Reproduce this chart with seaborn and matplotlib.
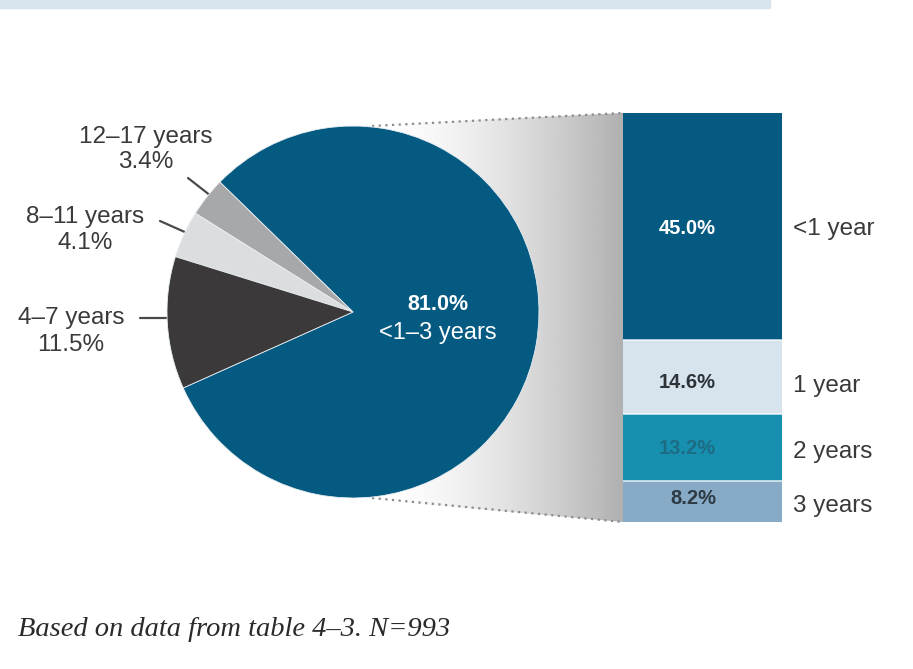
import numpy as np
import seaborn as sns
from matplotlib import pyplot as plt
from matplotlib.patches import Polygon, Rectangle

# pie: years in home state
pie_labels = ["<1–3 years", "12–17 years", "8–11 years", "4–7 years"]
pie_values = [81.0, 3.4, 4.1, 11.5]
pie_colors = ["#055a82", "#a7a8aa", "#dcdddf", "#3b393a"]

# breakdown of the <1-3 years slice, bottom to top
bar_labels = ["3 years", "2 years", "1 year", "<1 year"]
bar_values = [8.2, 13.2, 14.6, 45.0]
bar_colors = ["#87abc6", "#1790b0", "#d7e4ee", "#055a82"]
bar_text_colors = ["#2e3a44", "#1d6c84", "#2e3338", "#ffffff"]

footnote = "Based on data from table 4–3. N=993"

W, H = 913, 669
sns.set_theme(style="white")
plt.rcParams["font.family"] = ["Liberation Sans", "DejaVu Sans"]

fig = plt.figure(figsize=(W / 100, H / 100), dpi=100)
ax = fig.add_axes([0, 0, 1, 1])


def py(y):
    # pixel row -> data y
    return H - y


cx, cy, r = 353, py(312), 186
txt = "#3a3a3a"

# top band
ax.add_patch(Rectangle((0, py(8)), 770, 8, color="#d8e4ee", zorder=1))

# gradient fan between pie and bar
bar_l, bar_r, bar_t, bar_b = 623, 782, 113, 522
fan = Polygon([(cx, py(126)), (bar_l, py(bar_t)), (bar_l, py(bar_b)), (cx, py(498))],
              closed=True, facecolor="none", edgecolor="none")
ax.add_patch(fan)
t = np.linspace(0, 1, 256)
grad = 1 - 0.31 * t ** 1.5
img = ax.imshow(np.tile(grad, (2, 1)), cmap="gray", vmin=0, vmax=1, aspect="auto",
                extent=(380, bar_l, py(bar_b), py(bar_t)), zorder=1)
img.set_clip_path(fan)
ax.plot([372, bar_l], [py(126), py(bar_t)], ls=(0, (1, 2)), color="#8a8c90", lw=1.6, zorder=2)
ax.plot([372, bar_l], [py(498), py(bar_b)], ls=(0, (1, 2)), color="#8a8c90", lw=1.6, zorder=2)

ax.pie(pie_values, colors=pie_colors, startangle=204.1, counterclock=True,
       center=(cx, cy), radius=r, wedgeprops=dict(linewidth=0.6, edgecolor="#e8eef2"))
for w in ax.patches[-len(pie_values):]:
    w.set_zorder(3)

ax.text(438, py(305), f"{pie_values[0]:.1f}%", color="white", fontsize=15.5,
        fontweight="bold", ha="center", va="center", zorder=5)
ax.text(438, py(333), pie_labels[0], color="white", fontsize=17,
        ha="center", va="center", zorder=5)

# outside labels with leader lines
label_pos = [None, (146, 137, 162), (85, 217, 243), (71, 318, 345)]
leaders = [None, ((188, 178), (211, 196)), ((160, 221), (187, 233)), ((140, 318), (170, 318))]
for i in range(1, len(pie_values)):
    x, y1, y2 = label_pos[i]
    ax.text(x, py(y1), pie_labels[i], fontsize=17.5, color=txt, ha="center", va="center")
    ax.text(x, py(y2), f"{pie_values[i]:.1f}%", fontsize=17.5, color=txt, ha="center", va="center")
    (x0, y0), (x1, yy1) = leaders[i]
    ax.plot([x0, x1], [py(y0), py(yy1)], color="#4a4a4a", lw=1.6)

ax.set_xlim(0, W)
ax.set_ylim(0, H)
ax.set_aspect("equal")
ax.axis("off")

ax.text(18, py(629), footnote, fontsize=20.5, style="italic", color="#2a2a2a",
        family=["Liberation Serif", "DejaVu Serif"], ha="left", va="center")

# stacked bar in its own axes
bax = fig.add_axes([bar_l / W, 1 - bar_b / H, (bar_r - bar_l) / W, (bar_b - bar_t) / H])
cum = np.cumsum(bar_values)
for i in range(len(bar_values) - 1, -1, -1):
    sns.barplot(x=[0], y=[cum[i]], color=bar_colors[i], saturation=1, width=1,
                linewidth=0, ax=bax)
# thin white separators
for c in cum[:-1]:
    bax.axhline(c, color="white", lw=1.2, alpha=0.8)
bax.set_xlim(-0.5, 0.5)
bax.set_ylim(0, cum[-1])
bax.axis("off")

val_y = [498, 449, 382, 229]
lab_y = [506, 452, 386, 229]
for i, lab in enumerate(bar_labels):
    bax.text(716, py(val_y[i]), f"{bar_values[i]:.1f}%", fontsize=14.5, fontweight="bold",
             color=bar_text_colors[i], ha="right", va="center", transform=ax.transData,
             clip_on=False)
    ax.text(793, py(lab_y[i]), lab, fontsize=17.5, color=txt, ha="left", va="center")

fig.savefig("out.png", dpi=100)
